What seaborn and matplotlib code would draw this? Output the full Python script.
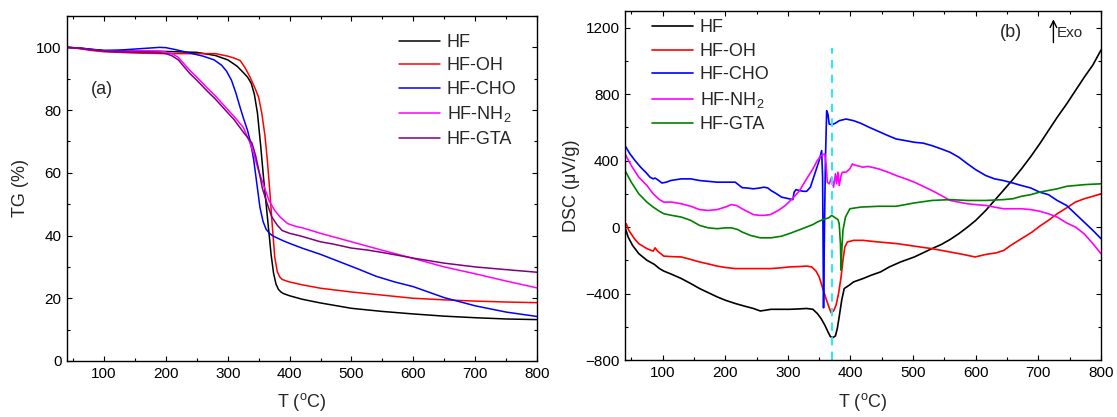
import matplotlib
matplotlib.use("Agg")
import matplotlib.pyplot as plt
import seaborn as sns
from matplotlib.ticker import MultipleLocator

# ---------------- data ----------------
series_names = ["HF", "HF-OH", "HF-CHO", "HF-NH$_2$", "HF-GTA"]

# TG (%) panel (a)
tg_hf_T = [40, 60, 80, 100, 150, 200, 250, 280, 300, 315, 325, 332, 338, 343, 348, 353, 358, 362, 366, 370,
           374, 378, 382, 386, 390, 400, 420, 450, 500, 550, 600, 650, 700, 750, 800]
tg_hf = [100, 99.8, 99.4, 99.0, 98.8, 98.7, 98.4, 97.4, 96.0, 94.0, 92.0, 90.5, 88.5, 85, 79, 69, 58, 50, 42, 34,
         28, 24.5, 22.8, 22.0, 21.5, 20.8, 19.7, 18.5, 16.8, 15.8, 15.0, 14.3, 13.8, 13.4, 13.2]

tg_oh_T = [40, 60, 80, 100, 150, 200, 250, 280, 300, 310, 320, 328, 336, 344, 350, 355, 360, 364, 368, 372,
           376, 380, 384, 388, 395, 400, 420, 450, 500, 550, 600, 650, 700, 750, 800]
tg_oh = [100, 99.6, 99.0, 98.6, 98.2, 98.0, 98.0, 98.0, 97.2, 96.6, 95.8, 93.5, 90.5, 87.0, 84, 79, 72, 64, 54, 43,
         33, 28.5, 26.8, 26.0, 25.5, 25.2, 24.3, 23.2, 22.0, 21.0, 20.0, 19.5, 19.1, 18.8, 18.6]

tg_cho_T = [40, 60, 80, 100, 130, 160, 190, 200, 215, 230, 245, 260, 278, 290, 298, 306, 313, 320, 326, 332,
            337, 342, 347, 352, 357, 362, 367, 372, 380, 390, 400, 420, 450, 480, 510, 540, 570, 600, 650, 700,
            750, 800]
tg_cho = [100, 99.8, 99.3, 99.0, 99.2, 99.6, 100.0, 99.9, 99.3, 98.6, 97.9, 97.2, 96.0, 94.3, 92.4, 89.5, 85.5,
          80.8, 77, 73.5, 69.5, 64, 56.5, 49, 44.5, 42, 40.8, 40.0, 39.2, 38.3, 37.5, 36.0, 34.0, 31.7, 29.4, 27.0,
          25.2, 23.7, 20.2, 17.6, 15.6, 14.2]

tg_nh2_T = [40, 60, 80, 100, 130, 160, 190, 200, 210, 220, 238, 250, 267, 280, 296, 310, 325, 335, 342, 350,
            359, 367, 376, 385, 397, 410, 420, 450, 500, 550, 600, 650, 700, 750, 800]
tg_nh2 = [100, 99.7, 99.2, 98.8, 98.7, 98.9, 98.8, 98.5, 98.0, 96.8, 92.8, 90.5, 87, 84.5, 81, 78, 74.5, 70, 66,
          60.5, 55.5, 51, 48, 45.8, 43.8, 42.9, 42.5, 40.7, 38.0, 35.3, 32.7, 30.0, 27.8, 25.5, 23.3]

tg_gta_T = [40, 60, 80, 100, 130, 160, 190, 200, 210, 220, 238, 250, 267, 280, 296, 310, 325, 339, 345, 350,
            356, 364, 371, 380, 388, 400, 417, 450, 470, 500, 525, 550, 600, 650, 700, 740, 800]
tg_gta = [100, 99.7, 99.2, 98.8, 98.5, 98.4, 98.3, 98.0, 97.3, 96.0, 91.8, 89.5, 86, 83.5, 80, 77, 73, 69.5, 65.5,
          61, 55, 50, 46, 43.3, 41.6, 40.7, 39.9, 38.0, 37.3, 36.0, 35.4, 34.6, 32.8, 31.2, 30.0, 29.3, 28.3]

# DSC (uV/g) panel (b)
dsc_hf_T = [40, 45, 52, 62, 75, 87, 95, 102, 115, 130, 145, 159, 173, 187, 200, 216, 230, 245, 256, 265, 273, 290,
            302, 316, 330, 340, 347, 353, 359, 364, 368, 372, 376, 379, 382, 386, 390, 398, 405, 420, 433, 448, 462,
            480, 502, 516, 530, 545, 559, 573, 587, 600, 616, 630, 644, 659, 673, 688, 702, 716, 730, 745, 759, 773,
            787, 800]
dsc_hf = [0, -60, -110, -160, -200, -225, -250, -265, -285, -310, -340, -370, -395, -420, -440, -460, -475, -490,
          -505, -500, -495, -495, -495, -493, -490, -495, -520, -550, -590, -630, -660, -665, -655, -610, -540, -440,
          -370, -350, -330, -310, -290, -270, -240, -210, -180, -155, -130, -105, -75, -40, 0, 40, 100, 160, 220,
          285, 350, 425, 500, 580, 660, 740, 820, 900, 975, 1065]

dsc_oh_T = [40, 42, 46, 55, 62, 75, 85, 88, 92, 102, 115, 130, 145, 159, 173, 187, 200, 216, 230, 245, 260, 273,
            290, 302, 316, 330, 338, 345, 350, 355, 360, 365, 369, 373, 377, 381, 385, 388, 391, 395, 405, 420, 445,
            475, 502, 530, 559, 580, 599, 616, 633, 645, 656, 673, 690, 702, 716, 730, 745, 759, 773, 787, 800]
dsc_oh = [0, 20, -20, -70, -100, -130, -145, -125, -145, -175, -178, -180, -195, -210, -222, -235, -243, -250, -250,
          -250, -250, -250, -245, -240, -238, -235, -240, -265, -300, -360, -420, -475, -515, -505, -470, -400, -300,
          -200, -120, -90, -80, -80, -90, -100, -115, -130, -150, -165, -180, -165, -155, -140, -110, -70, -30, 5,
          40, 80, 115, 150, 170, 185, 200]

dsc_cho_T = [40, 48, 56, 65, 73, 80, 85, 88, 92, 99, 106, 113, 130, 145, 159, 173, 187, 200, 216, 227, 235, 245,
             255, 262, 268, 273, 282, 290, 302, 308, 310, 313, 318, 325, 330, 336, 343, 350, 354, 355.5, 357, 358.5,
             360, 362, 364, 366, 370, 376, 382, 393, 405, 416, 430, 445, 460, 473, 488, 502, 516, 530, 545, 559, 573,
             587, 600, 616, 630, 644, 659, 673, 688, 702, 716, 730, 745, 759, 773, 787, 800]
dsc_cho = [490, 440, 400, 360, 330, 300, 290, 295, 285, 265, 270, 280, 290, 290, 280, 275, 270, 270, 270, 237, 235,
           230, 235, 240, 235, 220, 200, 180, 170, 165, 210, 225, 220, 215, 215, 240, 320, 400, 460, 300, -486, 0,
           400, 700, 680, 620, 615, 625, 640, 650, 640, 625, 600, 575, 550, 530, 520, 510, 505, 490, 470, 450, 420,
           380, 345, 310, 290, 280, 265, 250, 235, 210, 195, 160, 130, 80, 30, -20, -70]

dsc_nh2_T = [40, 50, 62, 75, 85, 95, 102, 115, 130, 145, 159, 173, 187, 200, 210, 218, 227, 237, 245, 255, 262, 272,
             285, 296, 307, 318, 330, 340, 347, 353, 359, 361, 363, 366, 370, 373, 376, 378, 380, 382, 385, 387, 393,
             399, 403, 405, 410, 420, 428, 445, 460, 473, 488, 502, 516, 530, 545, 559, 573, 587, 600, 616, 630, 644,
             659, 673, 688, 702, 716, 730, 745, 759, 773, 787, 800]
dsc_nh2 = [440, 370, 300, 250, 200, 165, 150, 150, 140, 125, 105, 100, 105, 120, 135, 130, 110, 90, 75, 70, 70, 75,
           100, 130, 170, 215, 290, 350, 400, 430, 440, 380, 270, 260, 300, 240, 320, 260, 330, 250, 310, 330, 330,
           350, 380, 375, 370, 360, 365, 350, 330, 310, 290, 270, 245, 220, 190, 160, 150, 140, 135, 130, 120, 110,
           110, 110, 105, 95, 80, 60, 25, 0, -40, -100, -160]

dsc_gta_T = [40, 50, 62, 75, 85, 95, 102, 115, 130, 145, 159, 173, 187, 200, 210, 220, 227, 240, 256, 265, 273, 290,
             302, 316, 330, 340, 347, 356, 365, 370, 376, 380, 382, 384, 385, 386, 388, 392, 399, 416, 445, 473, 502,
             530, 559, 587, 616, 644, 659, 673, 688, 702, 716, 730, 745, 759, 773, 787, 800]
dsc_gta = [340, 270, 200, 150, 120, 95, 80, 70, 60, 40, 10, -5, -10, -5, -5, -15, -30, -50, -65, -65, -65, -55,
           -40, -20, 0, 15, 30, 45, 55, 70, 55, 45, 20, -100, -260, -150, -20, 60, 110, 120, 125, 125, 145, 160, 165,
           160, 160, 165, 170, 185, 195, 210, 220, 230, 245, 250, 255, 258, 260]

peak_T = 370
peak_line_y = [-800, 1080]

tg_colors = ["#000000", "#FF0000", "#0000FF", "#FF00FF", "#800080"]
dsc_colors = ["#000000", "#FF0000", "#0000FF", "#FF00FF", "#008000"]

# ---------------- style ----------------
sns.set_theme(style="ticks")
plt.rcParams["font.family"] = ["Liberation Sans", "DejaVu Sans"]
plt.rcParams["mathtext.fontset"] = "custom"
plt.rcParams["mathtext.rm"] = "Liberation Sans"
plt.rcParams["mathtext.it"] = "Liberation Sans:italic"
plt.rcParams["mathtext.default"] = "regular"

fig = plt.figure(figsize=(11.17, 4.17), dpi=100)
ax1 = fig.add_axes([67 / 1117, 1 - 361 / 417, 470 / 1117, 345 / 417])
ax2 = fig.add_axes([625 / 1117, 1 - 360 / 417, 476 / 1117, 349 / 417])

tg_sets = [(tg_hf_T, tg_hf), (tg_oh_T, tg_oh), (tg_cho_T, tg_cho), (tg_nh2_T, tg_nh2), (tg_gta_T, tg_gta)]
dsc_sets = [(dsc_hf_T, dsc_hf), (dsc_oh_T, dsc_oh), (dsc_cho_T, dsc_cho), (dsc_nh2_T, dsc_nh2), (dsc_gta_T, dsc_gta)]

for (xs, ys), c, name in zip(tg_sets, tg_colors, series_names):
    sns.lineplot(x=xs, y=ys, ax=ax1, color=c, lw=1.1, label=name, estimator=None, sort=False)
for (xs, ys), c, name in zip(dsc_sets, dsc_colors, series_names):
    sns.lineplot(x=xs, y=ys, ax=ax2, color=c, lw=1.2, label=name, estimator=None, sort=False)

ax2.plot([peak_T, peak_T], peak_line_y, color="#33E6F0", lw=1.5, ls=(0, (4, 3)))

for ax in (ax1, ax2):
    ax.set_xlim(40, 800)
    ax.xaxis.set_major_locator(MultipleLocator(100))
    ax.xaxis.set_minor_locator(MultipleLocator(50))
    ax.tick_params(which="both", direction="in", top=True, right=True, width=0.8, colors="black",
                   labelsize=11, pad=4)
    ax.tick_params(which="major", length=3.5)
    ax.tick_params(which="minor", length=2.2)
    for s in ax.spines.values():
        s.set_linewidth(1.0)
        s.set_color("black")
    ax.set_xlabel("T ($^{o}$C)", fontsize=13)
    ax.xaxis.label.set_va("center")

ax1.set_ylim(0, 110)
ax1.yaxis.set_major_locator(MultipleLocator(20))
ax1.yaxis.set_minor_locator(MultipleLocator(10))
ax1.set_ylabel("TG (%)", fontsize=13)
ax1.yaxis.label.set_va("center")
ax1.yaxis.set_label_coords(-0.098, 0.5)
ax1.xaxis.set_label_coords(0.5, -0.119)

ax2.set_ylim(-800, 1300)
ax2.yaxis.set_major_locator(MultipleLocator(400))
ax2.yaxis.set_minor_locator(MultipleLocator(200))
ax2.set_ylabel("DSC (\u03bcV/g)", fontsize=13)
ax2.yaxis.label.set_va("center")
ax2.yaxis.set_label_coords(-0.113, 0.5)
ax2.xaxis.set_label_coords(0.5, -0.120)

ax1.legend(loc="upper left", bbox_to_anchor=(0.706, 0.948), frameon=False, fontsize=13,
           handlelength=2.3, handletextpad=0.35, labelspacing=0.36, borderaxespad=0, borderpad=0)
ax2.legend(loc="upper left", bbox_to_anchor=(0.056, 0.976), frameon=False, fontsize=13,
           handlelength=2.3, handletextpad=0.35, labelspacing=0.36, borderaxespad=0, borderpad=0)

ax1.text(97, 86.6, "(a)", fontsize=13, ha="center", va="center")
ax2.text(657, 1172, "(b)", fontsize=13, ha="center", va="center")
ax2.annotate("", xy=(724, 1250), xytext=(724, 1110),
             arrowprops=dict(arrowstyle="->", lw=1.0, color="black", shrinkA=0, shrinkB=0))
ax2.text(730, 1170, "Exo", fontsize=11, ha="left", va="center")

fig.savefig("out.png", dpi=100)
